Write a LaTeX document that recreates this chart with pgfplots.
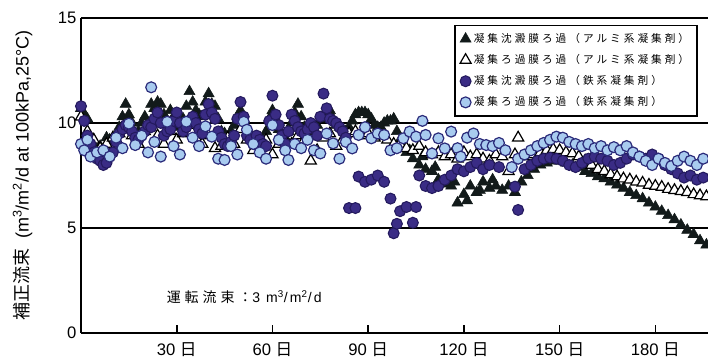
\documentclass[border=0pt]{standalone}
\usepackage{fontspec}
\setmainfont{Liberation Sans}
\newfontfamily\cjk{Noto Sans CJK JP}
\newfontfamily\cjkls[LetterSpace=28]{Noto Sans CJK JP}
\newfontfamily\lsans[LetterSpace=15]{Liberation Sans}
\usepackage{pgfplots}
\pgfplotsset{compat=1.18}
\definecolor{tri}{HTML}{121A1A}
\definecolor{dpur}{HTML}{3A2C85}
\definecolor{dpedge}{HTML}{241A5E}
\definecolor{lblue}{HTML}{A8CBEF}
\definecolor{lbedge}{HTML}{2B2B7A}
\begin{document}
\begin{tikzpicture}
\useasboundingbox (-60.75pt,-18.75pt) rectangle (470.25pt,249.75pt);
\begin{axis}[
 at={(0,0)}, anchor=south west,
 scale only axis, width=470.25pt, height=236.25pt,
 xmin=0, xmax=196.5, ymin=0, ymax=15,
 axis x line*=bottom, axis y line*=left,
 axis line style={line width=1.4pt},
 xtick={30,60,90,120,150,180},
 xticklabels={30~{\cjk 日},60~{\cjk 日},90~{\cjk 日},120~{\cjk 日},150~{\cjk 日},180~{\cjk 日}},
 xticklabel style={yshift=-3.5pt},
 ytick={0,5,10,15},
 ymajorgrids, major grid style={black, line width=1.1pt},
 tick align=inside, major tick length=6pt,
 xtick style={black, line width=1.2pt},
 ytick style={draw=none},
 tick label style={font=\fontsize{12.5}{14}\selectfont},
 /pgf/number format/assume math mode=true,
 ylabel={{\cjk 補正流束}\ \ (m\textsuperscript{3}/m\textsuperscript{2}/d at 100kPa,25°C)},
 ylabel style={at={(axis description cs:-0.0933,0.5)}, anchor=center, font=\fontsize{13.5}{15}\selectfont},
 legend style={at={(rel axis cs:0.984,0.979)}, anchor=north east, draw=black, line width=1.2pt,
   font=\fontsize{8}{10}\selectfont\cjkls, row sep=3.5pt, inner sep=4pt},
 legend cell align=left,
]
% black filled triangles
\addplot[only marks, mark=triangle*, mark size=4.8pt, mark options={fill=tri, draw=tri, line width=0.4pt}] coordinates {
(0,10.7) (1,10.4) (2,10.2) (4,9.0) (5,8.7) (6,8.9) (8,9.3) (9,9.2) (10,9.1) (12,9.8) (13,10.3) (14,10.9) (15,10.4) (16,10.0) (18,9.6) (19,10.0) (20,10.3) (22,10.9) (23,10.7) (24,11.0) (25,10.9) (26,10.4) (27,10.1) (28,10.6) (29,10.3) (30,9.8) (31,10.0) (32,10.2) (33,10.8) (34,11.5) (35,11.0) (36,10.6) (37,10.4) (38,10.3) (39,11.0) (40,11.4) (41,10.9) (42,10.8) (43,10.2) (44,9.6) (45,9.5) (46,9.3) (47,9.6) (48,9.9) (49,10.3) (50,10.6) (51,10.2) (52,9.8) (53,9.5) (54,9.3) (55,9.3) (56,9.0) (57,9.2) (58,9.6) (59,10.2) (60,10.6) (61,10.2) (62,9.7) (63,9.5) (64,9.3) (65,9.6) (66,10.0) (67,10.5) (68,10.9) (69,10.3) (70,9.8) (71,9.6) (72,9.5) (73,9.7) (74,9.9) (75,10.2) (76,10.4) (77,10.6) (78,10.6) (79,10.2) (80,9.9) (81,9.8) (82,9.7) (83,9.6) (84,9.8) (85,10.1) (86,10.4) (87,10.5) (88,10.5) (89,10.5) (90,10.4) (91,10.2) (92,9.9) (93,9.8) (94,9.8) (95,10.0) (96,10.1) (97,10.1) (98,10.2) (99,9.6) (100,9.2) (102,8.6) (103,8.7) (104,8.3) (106,8.0) (107,8.4) (108,7.8) (110,7.7) (111,7.9) (112,7.3) (114,7.1) (116,7.0) (117,7.2) (118,6.2) (120,6.6) (121,6.3) (122,7.0) (124,6.7) (125,6.8) (126,7.2) (128,6.9) (129,7.3) (130,7.0) (132,6.8) (134,7.0) (136,6.7) (138,7.2) (140,7.5) (142,7.8) (144,8.0) (146,8.1) (148,8.2) (150,8.2) (152,8.1) (154,8.0) (156,7.9) (158,7.7) (160,7.6) (162,7.45) (164,7.35) (166,7.2) (168,7.05) (170,6.9) (172,6.7) (174,6.55) (176,6.4) (178,6.2) (180,6.0) (182,5.8) (184,5.6) (186,5.4) (188,5.15) (190,4.9) (192,4.7) (194,4.4) (196,4.2)
};
\addlegendentry{凝集沈澱膜ろ過（アルミ系凝集剤）}
% open triangles
\addplot[only marks, mark=triangle*, mark size=4.8pt, mark options={fill=white, draw=black, line width=0.9pt}] coordinates {
(0,10.3) (2,9.6) (4,9.2) (6,8.8) (8,9.0) (10,9.3) (12,9.5) (14,9.8) (16,9.4) (18,9.0) (20,9.6) (22,10.0) (24,9.4) (26,9.0) (28,9.6) (30,9.2) (32,9.5) (34,9.9) (36,9.3) (38,9.0) (40,9.4) (42,8.8) (44,8.9) (46,9.3) (48,9.0) (50,9.7) (52,9.2) (54,8.7) (56,8.9) (58,9.2) (60,8.5) (62,9.0) (64,9.1) (66,9.0) (68,9.4) (70,9.2) (72,8.2) (74,8.7) (76,9.3) (78,9.5) (80,8.9) (82,9.2) (84,9.5) (86,9.6) (88,9.4) (90,9.5) (92,9.3) (94,9.4) (96,9.2) (98,9.0) (100,9.0) (102,8.8) (104,8.7) (106,8.9) (108,8.6) (110,8.5) (112,8.6) (114,8.4) (116,8.5) (118,8.3) (120,8.6) (122,8.4) (124,8.5) (126,8.3) (128,8.2) (130,8.5) (132,8.4) (134,7.7) (136,8.5) (137,9.3) (140,8.4) (142,8.5) (144,8.6) (146,8.7) (148,8.75) (150,8.7) (152,8.6) (154,8.55) (156,8.4) (158,8.2) (160,8.0) (162,7.8) (164,7.7) (166,7.55) (168,7.45) (170,7.35) (172,7.3) (174,7.2) (176,7.15) (178,7.05) (180,7.0) (182,6.95) (184,6.85) (186,6.8) (188,6.75) (190,6.7) (192,6.6) (194,6.55) (196,6.5)
};
\addlegendentry{凝集ろ過膜ろ過（アルミ系凝集剤）}
% dark purple circles
\addplot[only marks, mark=*, mark size=4.1pt, mark options={fill=dpur, draw=dpedge, line width=0.8pt}] coordinates {
(0,10.8) (1,10.1) (2,9.4) (3,9.0) (4,8.6) (5,8.3) (6,8.2) (7,8.0) (8,8.1) (9,8.4) (10,8.6) (11,9.1) (12,9.5) (13,9.7) (14,9.9) (15,9.8) (16,9.6) (17,9.3) (18,9.2) (19,9.4) (20,9.6) (21,9.9) (22,9.8) (23,10.2) (24,10.5) (25,10.0) (26,9.4) (27,9.6) (28,9.7) (29,10.1) (30,10.5) (31,10.0) (32,9.6) (33,9.8) (34,10.1) (35,10.3) (36,10.0) (37,9.7) (38,9.5) (39,10.4) (40,10.9) (41,10.5) (42,10.2) (43,9.6) (44,9.3) (45,9.0) (46,8.9) (47,9.1) (48,9.4) (49,10.2) (50,11.0) (51,10.3) (52,9.4) (53,9.2) (54,9.0) (55,9.4) (56,9.2) (57,9.0) (58,8.9) (59,10.1) (60,11.3) (61,10.4) (62,9.9) (63,9.4) (64,9.0) (65,9.6) (66,10.4) (67,10.1) (68,9.8) (69,9.6) (70,9.5) (71,9.7) (72,10.0) (73,9.8) (74,9.4) (75,10.3) (76,11.4) (77,10.7) (78,10.2) (79,10.1) (80,10.0) (81,9.8) (82,9.6) (83,9.3) (84,5.95) (86,5.95) (87,7.45) (89,7.2) (91,7.3) (93,7.5) (95,7.2) (97,6.4) (98,4.75) (99,5.2) (100,5.8) (102,6.0) (104,5.25) (105,6.0) (106,7.5) (108,7.0) (110,6.9) (112,7.0) (114,7.3) (116,7.5) (118,7.8) (120,7.7) (122,7.9) (124,8.1) (126,7.8) (128,8.0) (131,7.9) (136,6.97) (137,5.86) (139,7.8) (141,8.0) (143,8.2) (145,8.3) (147,8.35) (149,8.3) (151,8.2) (153,8.0) (155,7.9) (157,8.1) (159,8.3) (161,8.4) (163,8.3) (165,8.2) (167,8.0) (169,8.1) (171,8.3) (173,8.5) (175,8.4) (177,8.3) (179,8.5) (181,8.3) (183,8.0) (185,7.8) (187,7.6) (189,7.4) (191,7.5) (193,7.3) (195,7.4)
};
\addlegendentry{凝集沈澱膜ろ過（鉄系凝集剤）}
% light blue circles
\addplot[only marks, mark=*, mark size=4.1pt, mark options={fill=lblue, draw=lbedge, line width=0.9pt}] coordinates {
(0,9.0) (1,8.7) (2,9.2) (3,8.4) (5,8.6) (7,8.7) (9,8.4) (11,9.3) (13,8.8) (15,9.97) (17,8.95) (19,9.4) (21,8.6) (22,11.7) (23,9.1) (25,8.4) (27,10.06) (29,8.9) (31,8.5) (33,10.06) (35,9.3) (37,8.9) (39,9.84) (41,9.35) (43,8.3) (45,8.24) (47,8.9) (49,8.5) (51,10.06) (52,9.68) (54,9.0) (56,8.6) (58,8.3) (60,9.9) (62,9.2) (64,8.7) (65,8.24) (67,9.0) (69,8.8) (71,9.2) (73,8.7) (75,8.55) (77,9.5) (79,9.03) (81,8.3) (83,9.1) (85,8.79) (87,9.43) (89,9.8) (91,9.27) (93,9.5) (95,9.43) (97,8.7) (99,8.8) (101,9.27) (103,9.59) (105,9.35) (107,10.1) (108,9.43) (110,8.55) (112,9.27) (114,8.79) (116,9.59) (118,8.8) (119,8.4) (121,9.3) (123,9.5) (125,9.0) (127,8.95) (129,8.9) (131,9.05) (133,8.7) (135,7.9) (137,8.3) (139,8.5) (141,8.7) (143,8.9) (145,9.05) (147,9.2) (149,9.35) (151,9.3) (153,9.1) (155,9.0) (157,8.9) (159,9.0) (161,8.8) (163,8.9) (165,8.7) (167,8.85) (169,8.7) (171,8.9) (173,8.6) (175,8.4) (177,8.2) (179,8.0) (181,8.3) (183,8.1) (185,7.95) (187,8.2) (189,8.4) (191,8.2) (193,8.0) (195,8.3)
};
\addlegendentry{凝集ろ過膜ろ過（鉄系凝集剤）}
\node[anchor=west, font=\fontsize{10.5}{12}\selectfont] at (axis cs:25.4,1.71) {{\cjkls 運転流束：}{\lsans 3 m\textsuperscript{3}/m\textsuperscript{2}/d}};
\end{axis}
\end{tikzpicture}
\end{document}
